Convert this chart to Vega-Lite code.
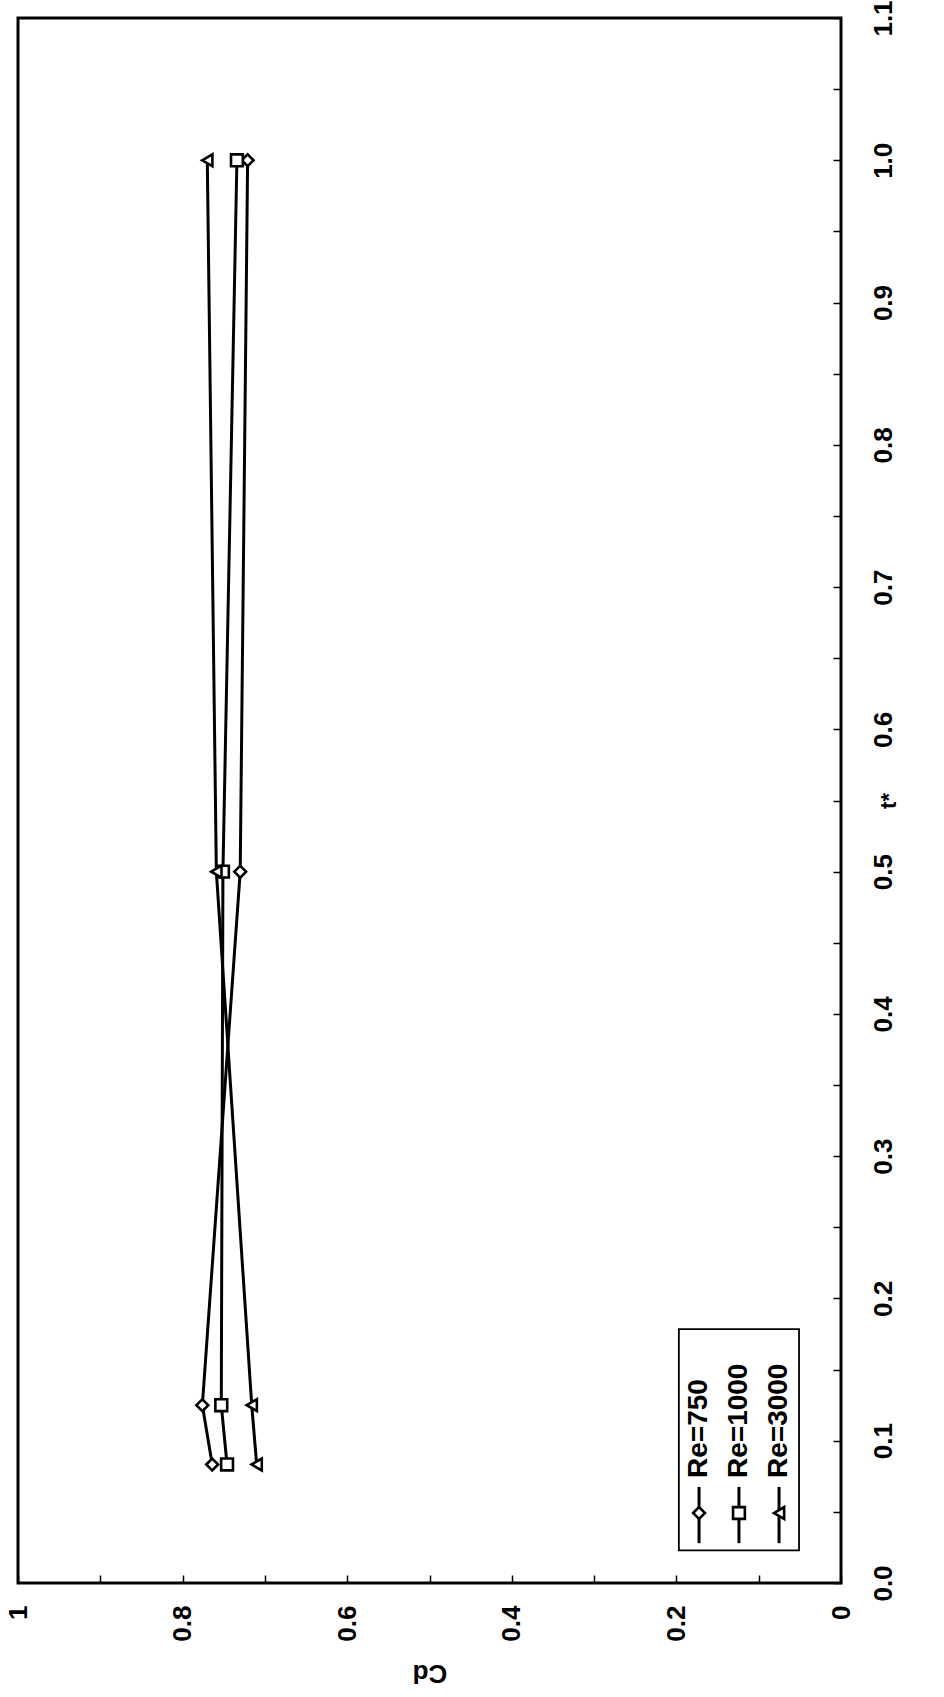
{
  "$schema": "https://vega.github.io/schema/vega-lite/v6.json",
  "width": 823,
  "height": 1565,
  "autosize": "none",
  "padding": {"left": 18, "top": 18, "right": 103, "bottom": 114},
  "background": "white",
  "config": {
    "view": {"stroke": "black", "strokeWidth": 3},
    "font": "Liberation Sans",
    "axis": {
      "domain": false,
      "grid": false,
      "tickColor": "black",
      "tickWidth": 1.5,
      "tickSize": -8,
      "labelFont": "Liberation Sans",
      "labelFontWeight": "bold",
      "labelFontSize": 26,
      "labelColor": "black",
      "labelAngle": 270,
      "labelOverlap": false,
      "labelFlush": false,
      "labelBound": false,
      "titleFont": "Liberation Sans",
      "titleFontWeight": "bold",
      "titleColor": "black"
    }
  },
  "data": {
    "values": [
      {"series": "Re=750", "t": 0.0833, "Cd": 0.764},
      {"series": "Re=750", "t": 0.125, "Cd": 0.776},
      {"series": "Re=750", "t": 0.5, "Cd": 0.730},
      {"series": "Re=750", "t": 1.0, "Cd": 0.721},
      {"series": "Re=1000", "t": 0.0833, "Cd": 0.746},
      {"series": "Re=1000", "t": 0.125, "Cd": 0.753},
      {"series": "Re=1000", "t": 0.5, "Cd": 0.751},
      {"series": "Re=1000", "t": 1.0, "Cd": 0.734},
      {"series": "Re=3000", "t": 0.0833, "Cd": 0.710},
      {"series": "Re=3000", "t": 0.125, "Cd": 0.716},
      {"series": "Re=3000", "t": 0.5, "Cd": 0.759},
      {"series": "Re=3000", "t": 1.0, "Cd": 0.770}
    ]
  },
  "layer": [
    {
      "mark": {"type": "line", "color": "black", "strokeWidth": 3},
      "encoding": {
        "x": {
          "field": "Cd", "type": "quantitative",
          "scale": {"domain": [0, 1], "reverse": true, "nice": false, "zero": false},
          "axis": {
            "orient": "bottom",
            "title": "Cd",
            "titleAngle": 180,
            "titleAlign": "center",
            "titleBaseline": "bottom",
            "titleFontSize": 26,
            "titlePadding": 18,
            "values": [0, 0.1, 0.2, 0.3, 0.4, 0.5, 0.6, 0.7, 0.8, 0.9, 1],
            "labelExpr": "round(datum.value * 10) % 2 == 0 ? format(datum.value, '~g') : ''",
            "labelAlign": "right",
            "labelBaseline": "middle",
            "labelPadding": 30
          }
        },
        "y": {
          "field": "t", "type": "quantitative",
          "scale": {"domain": [0, 1.1], "nice": false, "zero": false},
          "axis": {
            "orient": "right",
            "title": "t*",
            "titleAngle": 270,
            "titleAlign": "center",
            "titleBaseline": "top",
            "titleFontSize": 22,
            "titlePadding": -18,
            "values": [0, 0.05, 0.1, 0.15, 0.2, 0.25, 0.3, 0.35, 0.4, 0.45, 0.5, 0.55, 0.6, 0.65, 0.7, 0.75, 0.8, 0.85, 0.9, 0.95, 1.0, 1.05, 1.1],
            "labelExpr": "abs(datum.value * 10 - round(datum.value * 10)) < 0.001 ? format(datum.value, '.1f') : ''",
            "labelAlign": "center",
            "labelBaseline": "top",
            "labelPadding": 37
          }
        },
        "detail": {"field": "series"},
        "order": {"field": "t", "type": "quantitative"}
      }
    },
    {
      "mark": {"type": "point", "filled": true, "fill": "white", "stroke": "black", "strokeWidth": 2.6, "size": 140, "opacity": 1},
      "encoding": {
        "x": {"field": "Cd", "type": "quantitative"},
        "y": {"field": "t", "type": "quantitative"},
        "shape": {
          "field": "series", "type": "nominal",
          "scale": {"domain": ["Re=750", "Re=1000", "Re=3000"], "range": ["diamond", "square", "triangle-left"]},
          "legend": null
        }
      }
    },
    {
      "data": {"values": [{"item": "legend box"}]},
      "mark": {"type": "rect", "fill": "white", "stroke": "black", "strokeWidth": 1.8},
      "encoding": {
        "x": {"datum": 0.197, "type": "quantitative"},
        "x2": {"datum": 0.051},
        "y": {"datum": 0.023, "type": "quantitative"},
        "y2": {"datum": 0.1785}
      }
    },
    {
      "data": {"values": [{"item": "Re=750"}]},
      "mark": {"type": "rule", "color": "black", "strokeWidth": 3},
      "encoding": {
        "x": {"datum": 0.1725, "type": "quantitative"},
        "y": {"datum": 0.028, "type": "quantitative"},
        "y2": {"datum": 0.0675}
      }
    },
    {
      "data": {"values": [{"item": "Re=1000"}]},
      "mark": {"type": "rule", "color": "black", "strokeWidth": 3},
      "encoding": {
        "x": {"datum": 0.124, "type": "quantitative"},
        "y": {"datum": 0.028, "type": "quantitative"},
        "y2": {"datum": 0.0675}
      }
    },
    {
      "data": {"values": [{"item": "Re=3000"}]},
      "mark": {"type": "rule", "color": "black", "strokeWidth": 3},
      "encoding": {
        "x": {"datum": 0.0753, "type": "quantitative"},
        "y": {"datum": 0.028, "type": "quantitative"},
        "y2": {"datum": 0.0675}
      }
    },
    {
      "data": {"values": [{"item": "Re=750"}]},
      "mark": {"type": "point", "shape": "diamond", "filled": true, "fill": "white", "stroke": "black", "strokeWidth": 2.6, "size": 140, "opacity": 1},
      "encoding": {
        "x": {"datum": 0.1725, "type": "quantitative"},
        "y": {"datum": 0.0492, "type": "quantitative"}
      }
    },
    {
      "data": {"values": [{"item": "Re=1000"}]},
      "mark": {"type": "point", "shape": "square", "filled": true, "fill": "white", "stroke": "black", "strokeWidth": 2.6, "size": 140, "opacity": 1},
      "encoding": {
        "x": {"datum": 0.124, "type": "quantitative"},
        "y": {"datum": 0.0492, "type": "quantitative"}
      }
    },
    {
      "data": {"values": [{"item": "Re=3000"}]},
      "mark": {"type": "point", "shape": "triangle-left", "filled": true, "fill": "white", "stroke": "black", "strokeWidth": 2.6, "size": 140, "opacity": 1},
      "encoding": {
        "x": {"datum": 0.0753, "type": "quantitative"},
        "y": {"datum": 0.0492, "type": "quantitative"}
      }
    },
    {
      "data": {"values": [{"item": "Re=750"}]},
      "mark": {"type": "text", "angle": 270, "align": "left", "baseline": "middle", "font": "Liberation Sans", "fontWeight": "bold", "fontSize": 28, "color": "black"},
      "encoding": {
        "x": {"datum": 0.1725, "type": "quantitative"},
        "y": {"datum": 0.0738, "type": "quantitative"},
        "text": {"field": "item"}
      }
    },
    {
      "data": {"values": [{"item": "Re=1000"}]},
      "mark": {"type": "text", "angle": 270, "align": "left", "baseline": "middle", "font": "Liberation Sans", "fontWeight": "bold", "fontSize": 28, "color": "black"},
      "encoding": {
        "x": {"datum": 0.124, "type": "quantitative"},
        "y": {"datum": 0.0738, "type": "quantitative"},
        "text": {"field": "item"}
      }
    },
    {
      "data": {"values": [{"item": "Re=3000"}]},
      "mark": {"type": "text", "angle": 270, "align": "left", "baseline": "middle", "font": "Liberation Sans", "fontWeight": "bold", "fontSize": 28, "color": "black"},
      "encoding": {
        "x": {"datum": 0.0753, "type": "quantitative"},
        "y": {"datum": 0.0738, "type": "quantitative"},
        "text": {"field": "item"}
      }
    }
  ]
}
